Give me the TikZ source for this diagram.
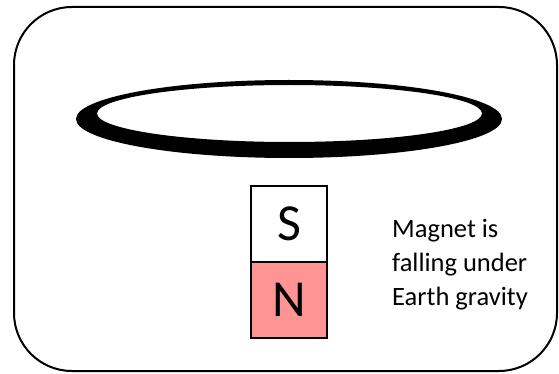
\documentclass[tikz,border=0pt]{standalone}
\usepackage{fontspec}
\setmainfont{Carlito}
\usepackage{tikz}
\usetikzlibrary{positioning}
\definecolor{NorthPink}{HTML}{FF9494}

\begin{document}
\begin{tikzpicture}[x=1pt,y=-1pt]
\tikzstyle{pole}=[rectangle,draw=black,line width=2pt,outer sep=0pt,minimum width=76pt,minimum height=76pt,inner sep=0pt,font=\fontsize{52}{52}\selectfont]
\useasboundingbox (0,0) rectangle (559,374);
% frame
\draw[line width=2pt,rounded corners=58pt] (14,7) rectangle (557,371);
% ring
\fill[black,even odd rule] (289,119) ellipse [x radius=213,y radius=39]
  (289.5,113.5) ellipse [x radius=192.5,y radius=28.5];
% magnet
\node[pole] (s) at (289,224) {S};
\node[pole,fill=NorthPink,below=0pt of s] (n) {N};
\node[anchor=west,align=left,inner sep=0pt,font=\fontsize{26.5}{34}\selectfont] (txt) at (392,265) {Magnet is\\falling under\\Earth gravity};
\end{tikzpicture}
\end{document}
